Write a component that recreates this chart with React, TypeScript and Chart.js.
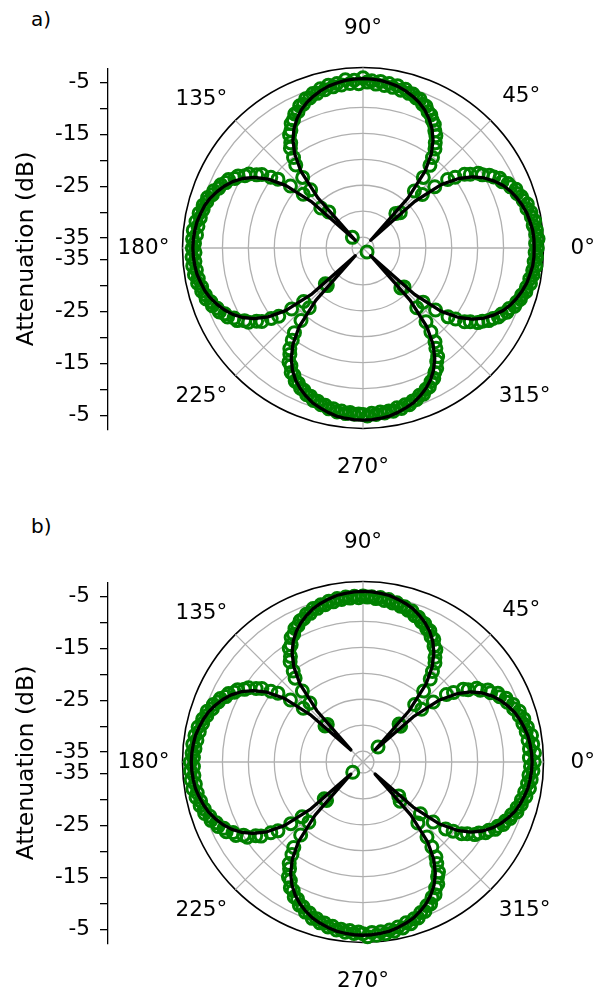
import React, { useEffect, useRef } from "react";
import { Chart, registerables } from "chart.js";

Chart.register(...registerables);

const FONT = '"DejaVu Sans", "Liberation Sans", sans-serif';

// ---------- axes / ticks ----------
const R_MIN = -37.1; // dB at the polar centre
const R_MAX = -2.3; // dB at the outer circle
const radialGridDb = [-35, -30, -25, -20, -15, -10, -5];
const angleTickValues = [0, 45, 90, 135, 180, 225, 270, 315];
const angleTickLabels = ["0°", "45°", "90°", "135°", "180°", "225°", "270°", "315°"];
const sideTickDb = [-5, -10, -15, -20, -25, -30, -35];
const sideTickLabelled = [-5, -15, -25, -35];
const panelLabels = ["a)", "b)"];
const axisTitle = "Attenuation (dB)";

// ---------- data ----------
// measured points (green circles): angle 0°, 1.5°, 3° ... 358.5° (counter-clockwise from 0°)
const GREEN_STEP = 1.5;
// model curve (black line): angle 0°, 3°, 6° ... 357°
const BLACK_STEP = 3;

const greenA: (number | null)[] = [
  -3.5, -3.8, -3.3, -3.7, -3.5, -4.0, -3.6, -4.1, -4.0, -4.6,
  -4.3, -4.9, -5.0, -5.6, -5.5, -6.3, -6.5, -7.4, -7.5, -8.4,
  -9.0, -10.1, -10.6, -12.0, -12.9, -14.7, -16.1, -18.9, -21.7, -27.2,
  null,
  -27.9, -22.3, -19.2, -16.6, -15.1, -13.5, -12.5, -11.3, -10.6, -9.6,
  -9.1, -8.3, -8.0, -7.2, -7.1, -6.4, -6.4, -5.9, -6.0, -5.4,
  -5.8, -5.1, -5.6, -5.0, -5.5, -4.8, -5.4, -4.8, -5.1,
  -4.3, -5.4, -4.7, -5.3, -4.5, -5.4, -5.0, -5.5, -5.0, -5.7,
  -5.3, -6.0, -5.8, -6.4, -6.3, -7.1, -7.1, -8.0, -8.1, -9.0,
  -9.4, -10.5, -11.1, -12.5, -13.3, -15.1, -16.5, -19.2, -22.0, -27.5,
  -34.2,
  -25.9, -21.6, -18.7, -16.0, -14.7, -13.0, -12.2, -10.9, -10.4, -9.3,
  -9.0, -8.0, -7.8, -7.1, -7.0, -6.3, -6.3, -5.6, -5.7, -5.2,
  -5.4, -4.8, -5.2, -4.5, -5.0, -4.2, -4.9, -4.2, -4.6,
  -4.2, -4.7, -4.1, -4.6, -4.1, -4.7, -4.2, -4.8, -4.5, -5.1,
  -4.9, -5.4, -5.3, -6.0, -6.0, -6.7, -6.8, -7.6, -7.8, -8.8,
  -9.1, -10.3, -10.8, -12.2, -13.0, -14.8, -16.2, -19.0, -21.7, -27.1,
  null,
  -27.1, -21.6, -18.7, -16.1, -14.7, -13.1, -12.2, -10.9, -10.5, -9.4,
  -9.2, -8.3, -8.2, -7.5, -7.4, -6.8, -6.8, -6.2, -6.3, -5.8,
  -5.9, -5.4, -5.6, -5.1, -5.4, -5.0, -5.3, -5.0, -5.1,
  -5.0, -4.7, -5.2, -4.9, -5.3, -5.0, -5.3, -5.1, -5.6, -5.3,
  -5.8, -5.6, -6.1, -6.1, -6.7, -6.6, -7.3, -7.4, -8.2, -8.5,
  -9.4, -9.9, -11.0, -11.7, -13.2, -14.3, -16.3, -18.4, -21.6, -26.5,
  -36.0,
  -26.2, -21.5, -18.7, -16.0, -14.6, -12.9, -12.0, -10.7, -10.1, -9.1,
  -8.6, -7.8, -7.5, -6.7, -6.6, -5.8, -5.7, -5.2, -5.2, -4.6,
  -4.7, -4.1, -4.4, -3.9, -4.1, -3.6, -4.0, -3.6, -3.9,
];

const blackA: number[] = [
  -4.1, -4.1, -4.2, -4.5, -4.8, -5.3, -5.9, -6.6, -7.5, -8.7, -10.1, -11.9, -14.3, -17.7, -23.7,
  -35.0,
  -24.1, -18.1, -14.7, -12.3, -10.5, -9.1, -7.9, -7.0, -6.3, -5.7, -5.2, -4.9, -4.6, -4.5,
  -4.45, -4.5, -4.6, -4.9, -5.2, -5.7, -6.3, -7.0, -7.9, -9.1, -10.5, -12.3, -14.7, -18.1, -24.1,
  -35.0,
  -23.9, -17.9, -14.5, -12.1, -10.3, -8.9, -7.8, -6.9, -6.1, -5.5, -5.1, -4.7, -4.5, -4.35,
  -4.3, -4.35, -4.5, -4.7, -5.1, -5.5, -6.1, -6.9, -7.8, -8.9, -10.3, -12.1, -14.5, -17.9, -23.9,
  -35.0,
  -23.5, -17.5, -14.1, -11.7, -9.9, -8.5, -7.4, -6.5, -5.7, -5.2, -4.7, -4.3, -4.1, -3.95,
  -3.9, -3.95, -4.1, -4.3, -4.7, -5.2, -5.7, -6.5, -7.4, -8.5, -9.9, -11.7, -14.1, -17.5, -23.5,
  -35.0,
  -23.7, -17.7, -14.3, -11.9, -10.1, -8.7, -7.5, -6.6, -5.9, -5.3, -4.8, -4.5, -4.2, -4.1,
];

const greenB: (number | null)[] = [
  -4.1, -5.0, -4.0, -4.9, -4.2, -5.0, -4.2, -5.1, -4.7, -5.4,
  -5.0, -5.7, -5.4, -6.3, -6.1, -7.0, -6.9, -7.9, -7.9, -9.1,
  -9.3, -10.6, -11.0, -12.5, -13.2, -15.1, -16.4, -19.3, -21.9, -27.1,
  -33.0,
  -27.0, -22.2, -19.1, -16.5, -15.1, -13.5, -12.6, -11.3, -10.9, -9.8,
  -9.6, -8.7, -8.6, -7.9, -7.8, -7.2, -7.2, -6.5, -6.6, -6.1,
  -6.2, -5.7, -5.9, -5.4, -5.7, -5.2, -5.5, -5.2, -5.3,
  -5.1, -5.4, -5.1, -5.4, -5.1, -5.5, -5.2, -5.7, -5.4, -5.9,
  -5.7, -6.2, -6.0, -6.7, -6.6, -7.2, -7.3, -8.0, -8.2, -9.1,
  -9.4, -10.6, -11.0, -12.4, -13.2, -15.0, -16.3, -19.1, -21.8, -27.1,
  null,
  -27.0, -21.6, -18.7, -16.0, -14.7, -13.0, -12.1, -10.8, -10.3, -9.2,
  -8.9, -8.0, -7.8, -7.0, -6.9, -6.2, -6.3, -5.5, -5.7, -5.1,
  -5.3, -4.6, -5.0, -4.3, -4.8, -4.1, -4.6, -4.1, -4.4,
  -3.8, -4.4, -3.8, -4.4, -3.8, -4.5, -3.9, -4.6, -4.2, -4.9,
  -4.6, -5.2, -5.0, -5.8, -5.7, -6.5, -6.5, -7.4, -7.5, -8.6,
  -8.8, -10.1, -10.5, -12.0, -12.8, -14.7, -16.0, -18.8, -21.3, -26.8,
  -34.3,
  -26.9, -21.5, -18.6, -15.9, -14.6, -12.9, -12.1, -10.7, -10.3, -9.1,
  -8.9, -7.9, -7.8, -6.9, -6.9, -6.1, -6.2, -5.4, -5.6, -5.0,
  -5.2, -4.6, -4.9, -4.3, -4.6, -4.1, -4.5, -4.0, -4.3,
  -4.0, -3.4, -4.2, -3.6, -4.2, -3.7, -4.3, -3.9, -4.6, -4.2,
  -5.0, -4.6, -5.3, -5.2, -6.0, -5.9, -6.8, -6.8, -7.8, -8.0,
  -9.1, -9.5, -10.7, -11.4, -12.9, -14.0, -16.0, -18.1, -21.3, -26.7,
  null,
  -27.6, -22.2, -19.3, -16.6, -15.2, -13.6, -12.7, -11.4, -10.9, -9.8,
  -9.5, -8.5, -8.3, -7.5, -7.4, -6.7, -6.7, -5.9, -6.1, -5.5,
  -5.7, -5.0, -5.4, -4.6, -5.1, -4.5, -5.0, -4.3, -4.8,
];

const blackB: number[] = [
  -4.5, -4.55, -4.7, -4.9, -5.3, -5.75, -6.3, -7.1, -8.0, -9.1, -10.5, -12.3, -14.7, -18.1, -24.1,
  -33.8,
  -23.8, -17.8, -14.4, -12.0, -10.2, -8.8, -7.7, -6.8, -6.0, -5.45, -5.0, -4.6, -4.4, -4.25,
  -4.2, -4.25, -4.4, -4.6, -5.0, -5.45, -6.0, -6.8, -7.7, -8.8, -10.2, -12.0, -14.4, -17.8, -23.8,
  -33.8,
  -23.6, -17.6, -14.2, -11.8, -10.0, -8.6, -7.5, -6.6, -5.8, -5.25, -4.8, -4.4, -4.2, -4.05,
  -4.0, -4.05, -4.2, -4.4, -4.8, -5.25, -5.8, -6.6, -7.5, -8.6, -10.0, -11.8, -14.2, -17.6, -23.6,
  -33.8,
  -23.3, -17.3, -13.9, -11.5, -9.7, -8.3, -7.2, -6.3, -5.5, -4.95, -4.5, -4.1, -3.9, -3.75,
  -3.7, -3.75, -3.9, -4.1, -4.5, -4.95, -5.5, -6.3, -7.2, -8.3, -9.7, -11.5, -13.9, -17.3, -23.3,
  -33.8,
  -24.1, -18.1, -14.7, -12.3, -10.5, -9.1, -8.0, -7.1, -6.3, -5.75, -5.3, -4.9, -4.7, -4.55,
];

// ---------- helpers building the radar tables ----------
const N_LABELS = Math.round(360 / GREEN_STEP);
// radar index 0 is at the top and runs clockwise; convert to math angle
const thetaOfIndex = (i: number) => ((((90 - i * GREEN_STEP) % 360) + 360) % 360);
const radarLabels = Array.from({ length: N_LABELS }, (_, i) => thetaOfIndex(i));

function toRadarGreen(arr: (number | null)[]) {
  return radarLabels.map((t) => arr[Math.round(t / GREEN_STEP) % arr.length]);
}
function toRadarBlack(arr: number[]) {
  return radarLabels.map((t) => {
    const k = t / BLACK_STEP;
    return Math.abs(k - Math.round(k)) < 1e-6 ? arr[Math.round(k) % arr.length] : null;
  });
}
const angleLabelFor = (t: number) => {
  const idx = angleTickValues.findIndex((v) => Math.abs(v - t) < 1e-6);
  return idx >= 0 ? angleTickLabels[idx] : "";
};
const labelPad: Record<number, number> = { 0: 27, 45: 16.3, 90: 25.7, 135: 11.5, 180: 13.1, 225: 11.5, 270: 25.7, 315: 11.5 };

const SPAN = R_MAX - R_MIN;
const sideTicks = [
  ...sideTickDb.map((d) => d - R_MIN),
  ...sideTickDb.map((d) => -(d - R_MIN)),
].sort((a, b) => a - b);

function Panel({ top, label, labelTop, black, green }: { top: number; label: string; labelTop: number; black: number[]; green: (number | null)[] }) {
  const axisRef = useRef<HTMLCanvasElement | null>(null);
  const polarRef = useRef<HTMLCanvasElement | null>(null);

  useEffect(() => {
    const axisChart = new Chart(axisRef.current as HTMLCanvasElement, {
      type: "scatter",
      data: { datasets: [] },
      options: {
        responsive: false,
        animation: false,
        devicePixelRatio: 1,
        events: [],
        layout: { padding: { top: 68.5, bottom: 70.5, left: 0, right: 0 } },
        plugins: { legend: { display: false }, tooltip: { enabled: false } },
        scales: {
          x: { display: false, min: 0, max: 1 },
          y: {
            type: "linear",
            position: "left",
            min: -SPAN,
            max: SPAN,
            afterBuildTicks: (s: any) => {
              s.ticks = sideTicks.map((v) => ({ value: v }));
            },
            afterFit: (s: any) => {
              s.width = 108;
            },
            ticks: {
              autoSkip: false,
              padding: 10,
              color: "#000",
              font: { family: FONT, size: 21.5 },
              callback: (v: any) => {
                const d = Math.round((R_MIN + Math.abs(Number(v))) * 10) / 10;
                return sideTickLabelled.includes(d) ? String(d) : "";
              },
            },
            grid: { drawOnChartArea: false, drawTicks: true, tickLength: 8, color: "#000", lineWidth: 1.3 },
            border: { display: true, color: "#000", width: 1.3 },
            title: {
              display: true,
              text: axisTitle,
              color: "#000",
              font: { family: FONT, size: 23.5 },
              padding: { top: 12.4, bottom: 0 },
            },
          },
        },
      },
    } as any);

    const gridTicks = [R_MIN, ...radialGridDb, R_MAX];
    const last = gridTicks.length - 1;
    const polarChart = new Chart(polarRef.current as HTMLCanvasElement, {
      type: "radar",
      data: {
        labels: radarLabels,
        datasets: [
          {
            label: "model",
            data: toRadarBlack(black),
            borderColor: "#000",
            borderWidth: 3.3,
            pointRadius: 0,
            pointHoverRadius: 0,
            fill: false,
            spanGaps: true,
            tension: 0,
            borderJoinStyle: "round",
          },
          {
            label: "measured",
            data: toRadarGreen(green),
            showLine: false,
            fill: false,
            borderColor: "#008000",
            pointBorderColor: "#008000",
            pointBackgroundColor: "rgba(0,0,0,0)",
            pointRadius: 6,
            pointBorderWidth: 3,
          },
        ],
      },
      options: {
        responsive: false,
        animation: false,
        devicePixelRatio: 1,
        events: [],
        layout: { padding: { top: 17, bottom: 19, left: 0, right: 0 } },
        plugins: { legend: { display: false }, tooltip: { enabled: false } },
        scales: {
          r: {
            min: R_MIN,
            max: R_MAX,
            beginAtZero: false,
            afterBuildTicks: (s: any) => {
              s.ticks = gridTicks.map((v) => ({ value: v }));
            },
            ticks: { display: false },
            grid: {
              circular: true,
              color: (c: any) => (c.index === last ? "#000" : "#b0b0b0"),
              lineWidth: (c: any) => (c.index === 0 ? 0 : c.index === last ? 1.6 : 1.3),
            },
            angleLines: {
              color: "#b0b0b0",
              lineWidth: (c: any) => (angleLabelFor(radarLabels[c.index]) ? 1.3 : 0),
            },
            pointLabels: {
              display: true,
              color: "#000",
              font: { family: FONT, size: 21.5 },
              padding: (c: any) => {
                const t = radarLabels[c.index];
                return angleLabelFor(t) ? labelPad[Math.round(t)] : 0;
              },
              callback: (lbl: any) => angleLabelFor(Number(lbl)),
            },
          },
        },
      },
    } as any);

    return () => {
      axisChart.destroy();
      polarChart.destroy();
    };
  }, []);

  return (
    <>
      <div
        style={{
          position: "absolute",
          left: 31,
          top: top + labelTop,
          fontSize: 20,
          lineHeight: "20px",
          color: "#000",
          fontFamily: FONT,
        }}
      >
        {label}
      </div>
      <canvas
        ref={axisRef}
        width={120}
        height={500}
        style={{ position: "absolute", left: 0, top, width: 120, height: 500 }}
      />
      <canvas
        ref={polarRef}
        width={492}
        height={500}
        style={{ position: "absolute", left: 111, top, width: 492, height: 500 }}
      />
    </>
  );
}

export default function App() {
  return (
    <div
      style={{
        position: "absolute",
        left: 0,
        top: 0,
        width: 599,
        height: 992,
        overflow: "hidden",
        background: "#fff",
        fontFamily: FONT,
      }}
    >
      <Panel top={0} label={panelLabels[0]} labelTop={9} black={blackA} green={greenA} />
      <Panel top={514} label={panelLabels[1]} labelTop={1.5} black={blackB} green={greenB} />
    </div>
  );
}
